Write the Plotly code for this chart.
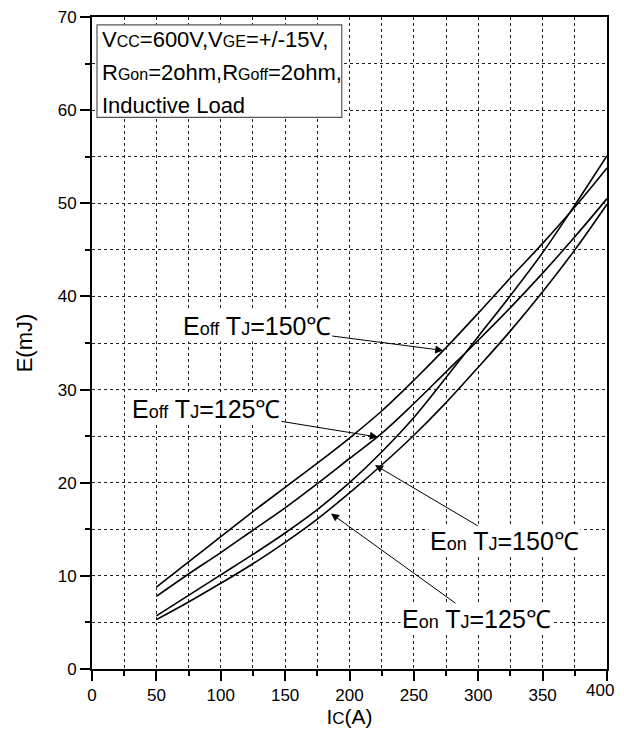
import plotly.graph_objects as go

# collector current (A)
ic = [50, 75, 100, 125, 150, 175, 200, 225, 250, 275, 300, 325, 350, 375, 400]

# switching energies (mJ)
eoff_150 = [8.8, 11.5, 14.2, 16.9, 19.5, 22.1, 24.8, 27.7, 31.0, 34.5, 38.2, 42.0, 45.7, 49.6, 53.8]
eoff_125 = [7.8, 10.2, 12.5, 14.9, 17.3, 19.9, 22.6, 25.3, 28.5, 31.9, 35.3, 38.8, 42.5, 46.4, 50.5]
eon_150 = [5.7, 7.9, 10.1, 12.3, 14.6, 17.1, 20.0, 23.3, 27.0, 31.3, 35.7, 40.1, 44.7, 49.8, 55.1]
eon_125 = [5.3, 7.2, 9.2, 11.3, 13.6, 16.1, 18.9, 21.9, 25.1, 28.6, 32.4, 36.3, 40.5, 45.0, 49.9]

x_ticks = [0, 50, 100, 150, 200, 250, 300, 350, 400]

box_lines = ["V<s>CC</s>=600V,V<s>GE</s>=+/-15V,",
             "R<s>Gon</s>=2ohm,R<s>Goff</s>=2ohm,",
             "Inductive Load"]

FONT = "Liberation Sans, Arial, sans-serif"


def sub(text, size):
    return text.replace("<s>", "<span style='font-size:%dpx'>" % size).replace("</s>", "</span>")


fig = go.Figure()
for y in [eoff_150, eoff_125, eon_150, eon_125]:
    fig.add_trace(go.Scatter(x=ic, y=y, mode="lines",
                             line=dict(color="black", width=1.6, shape="spline"),
                             showlegend=False))

axis_common = dict(showline=True, linecolor="black", linewidth=2, mirror=True,
                   ticks="outside", ticklen=10, tickwidth=2, tickcolor="black",
                   showgrid=True, gridcolor="#222", griddash="dot", gridwidth=1,
                   zeroline=False, automargin=False, ticklabeloverflow="allow",
                   tickfont=dict(size=17, color="black", family=FONT))
minor_common = dict(ticks="outside", ticklen=5, tickwidth=1.5, tickcolor="black",
                    showgrid=True, gridcolor="#222", griddash="dot", gridwidth=1)

# last x label is drawn separately so it stays inside the window
fig.update_xaxes(range=[0, 400], tickvals=x_ticks,
                 ticktext=[str(v) for v in x_ticks[:-1]] + [""],
                 minor=dict(dtick=25, **minor_common),
                 title=dict(text=sub("I<s>C</s>(A)", 17), standoff=0,
                            font=dict(size=21, color="black", family=FONT)),
                 **axis_common)
fig.update_yaxes(range=[0, 70], dtick=10, tick0=0, minor=dict(dtick=5, **minor_common),
                 title=dict(text="E(mJ)", standoff=19,
                            font=dict(size=22, color="black", family=FONT)),
                 **axis_common)
fig.add_annotation(x=x_ticks[-1], xref="x", y=0, yref="paper", text=str(x_ticks[-1]),
                   showarrow=False, xanchor="right", yanchor="middle", xshift=9, yshift=-21,
                   font=dict(size=17, color="black", family=FONT))

# conditions box
fig.add_shape(type="rect", xref="paper", yref="paper", x0=0.0097, x1=0.485, y0=0.846, y1=0.988,
              line=dict(color="#555", width=1.2), fillcolor="white", layer="above")
for i, line in enumerate(box_lines):
    fig.add_annotation(xref="paper", yref="paper", x=0.015, y=0.965 - i * 0.0505,
                       xanchor="left", yanchor="middle", text=sub(line, 16),
                       showarrow=False, font=dict(size=22, color="black", family=FONT))

# curve labels with arrows: text, arrow tip (A, mJ), text centre (A, mJ)
labels = [
    ("E<s>off</s> T<s>J</s>=150℃", 272.8, 34.2, 128, 36.8),
    ("E<s>off</s> T<s>J</s>=125℃", 222, 24.9, 88.5, 27.9),
    ("E<s>on</s> T<s>J</s>=150℃", 219.8, 21.9, 320, 13.7),
    ("E<s>on</s> T<s>J</s>=125℃", 185.6, 16.7, 299, 5.4),
]
for txt, tx, ty, lx, ly in labels:
    fig.add_annotation(x=tx, y=ty, ax=lx, ay=ly, axref="x", ayref="y",
                       text=sub(txt, 18), showarrow=True, arrowhead=2, arrowsize=1.6,
                       arrowwidth=1, arrowcolor="black", bgcolor="white",
                       font=dict(size=25, color="black", family=FONT))

# the page body adds an 8px margin
fig.update_layout(width=616, height=722, plot_bgcolor="white", paper_bgcolor="white",
                  margin=dict(l=84, r=17, t=9, b=61),
                  font=dict(family=FONT, color="black"))

fig.write_html("out.html")
